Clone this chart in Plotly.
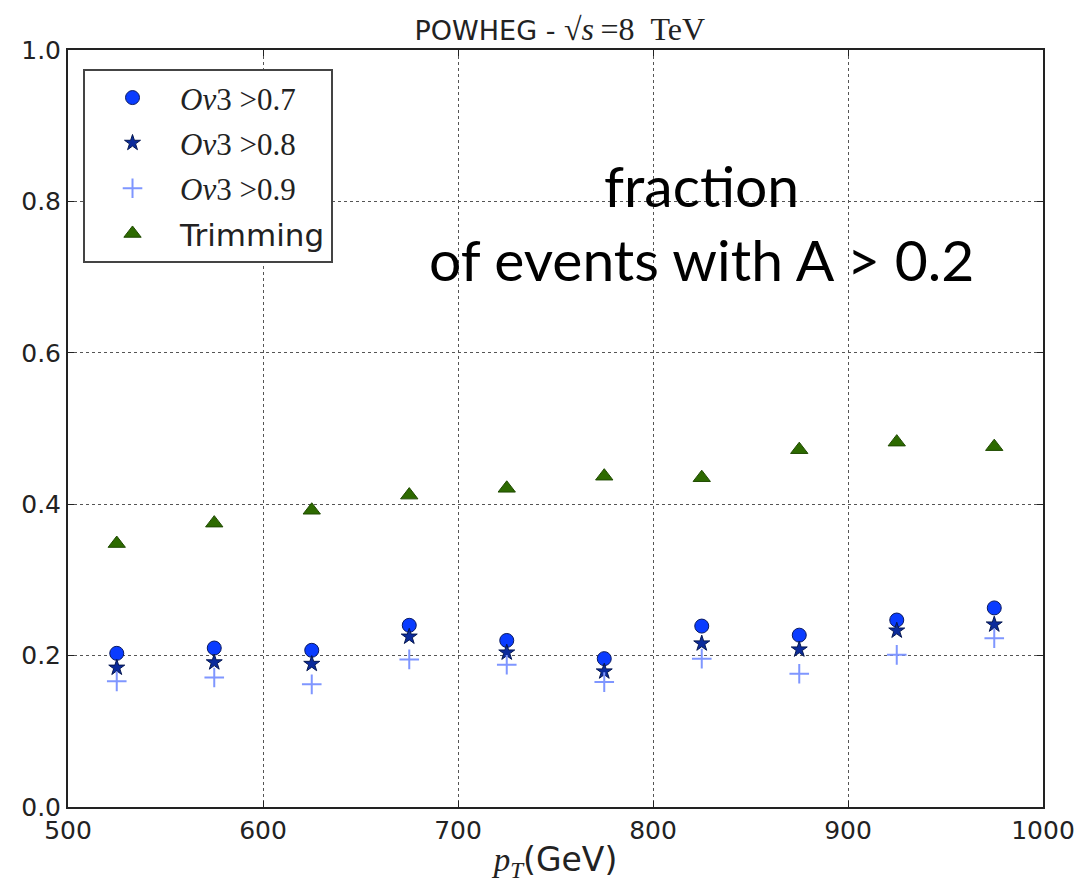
import plotly.graph_objects as go

# pT bin centres (GeV)
pt = [525, 575, 625, 675, 725, 775, 825, 875, 925, 975]

# fraction of events with A > 0.2
ov3_07 = [0.203, 0.210, 0.207, 0.240, 0.220, 0.196, 0.239, 0.227, 0.247, 0.263]
ov3_08 = [0.184, 0.191, 0.189, 0.225, 0.204, 0.179, 0.216, 0.208, 0.233, 0.241]
ov3_09 = [0.166, 0.171, 0.162, 0.195, 0.188, 0.165, 0.196, 0.176, 0.201, 0.223]
trimming = [0.348, 0.375, 0.392, 0.412, 0.421, 0.437, 0.435, 0.472, 0.482, 0.476]

x_ticks = [500, 600, 700, 800, 900, 1000]
y_ticks = [0.0, 0.2, 0.4, 0.6, 0.8, 1.0]

ov3 = "<span style='font-family:Liberation Serif;font-size:31px'><i>Ov</i>3 &gt;0.%s</span>"

fig = go.Figure()
fig.add_trace(go.Scatter(x=pt, y=ov3_07, mode="markers", name=ov3 % "7", legendgroup="a",
                         marker=dict(symbol="circle", size=14, color="#0a3cff",
                                     line=dict(width=1, color="#0a1a60"))))
fig.add_trace(go.Scatter(x=pt, y=ov3_08, mode="markers", name=ov3 % "8", legendgroup="b",
                         marker=dict(symbol="star", size=12, color="#0b2b9c",
                                     line=dict(width=1, color="#061850"))))
fig.add_trace(go.Scatter(x=pt, y=ov3_09, mode="markers", name=ov3 % "9", legendgroup="c",
                         marker=dict(symbol="cross-thin", size=14, color="#7f96ff",
                                     line=dict(width=2, color="#7f96ff"))))
fig.add_trace(go.Scatter(x=pt, y=trimming, mode="markers", name="Trimming", legendgroup="d",
                         marker=dict(symbol="triangle-up", size=15, color="#2d6a00",
                                     line=dict(width=1, color="#1f4a00"))))

axis_common = dict(showline=True, linecolor="#222222", linewidth=2, mirror="ticks",
                   ticks="inside", ticklen=6, tickcolor="#222222", automargin=False,
                   showgrid=True, gridcolor="#555555", griddash="dot", gridwidth=1,
                   zeroline=False, tickfont=dict(family="DejaVu Sans", size=25, color="#222222"))

fig.update_xaxes(range=[500, 1000], tickvals=x_ticks, ticktext=[str(v) for v in x_ticks],
                 title=dict(text="<span style='font-family:Liberation Serif;font-size:33px'><i>p</i><sub><i>T</i></sub></span>(GeV)",
                            font=dict(family="DejaVu Sans", size=33, color="#222222"), standoff=4),
                 **axis_common)
fig.update_yaxes(range=[0, 1], tickvals=y_ticks, ticktext=["%.1f" % v for v in y_ticks],
                 **axis_common)

fig.add_annotation(text="fraction<br>of events with A &gt; 0.2", xref="x", yref="y",
                   x=825, y=0.773, showarrow=False, align="center",
                   font=dict(family="Lato", size=57, color="black"))

# page body adds an 8px offset, margins compensate for it
fig.update_layout(
    width=1082, height=889,
    margin=dict(l=60, r=47, t=42, b=90),
    plot_bgcolor="white", paper_bgcolor="white",
    title=dict(text="POWHEG - <span style='font-family:Liberation Serif;font-size:32px'>√<i>s</i>&#8201;=8&#8194;TeV</span>",
               x=0.51, xanchor="center", y=0.975, yanchor="middle",
               font=dict(family="DejaVu Sans", size=27, color="#222222")),
    legend=dict(x=0.0154, y=0.975, xanchor="left", yanchor="top",
                bgcolor="white", bordercolor="#444444", borderwidth=2,
                font=dict(family="DejaVu Sans", size=31, color="#222222"),
                tracegroupgap=2, itemwidth=85),
    showlegend=True,
)

fig.write_html("out.html")
